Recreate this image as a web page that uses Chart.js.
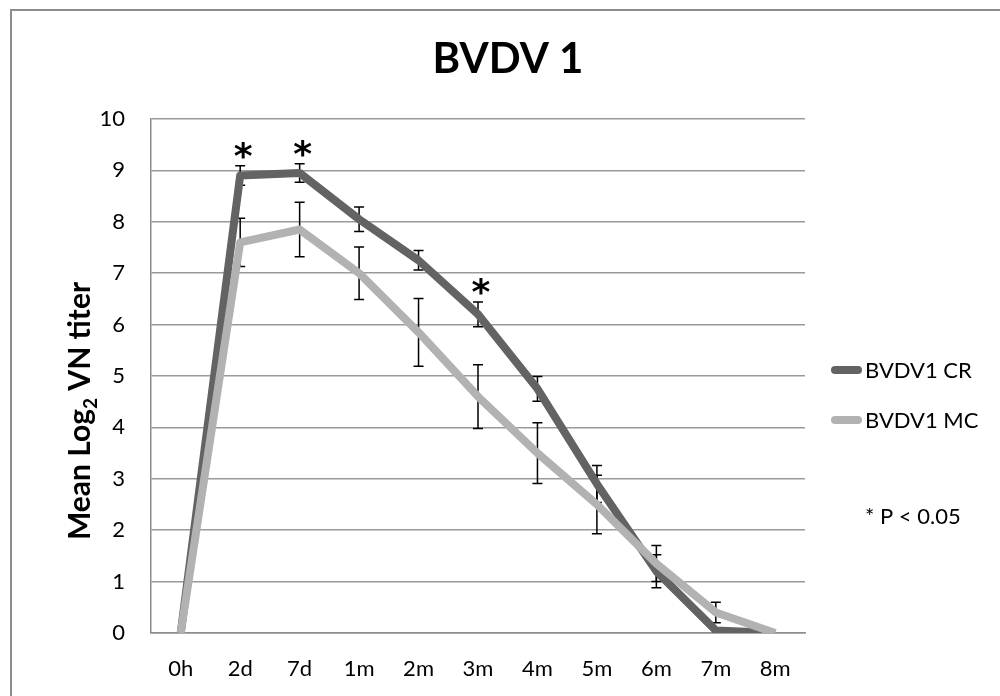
<!DOCTYPE html>
<html>
<head>
<meta charset="utf-8">
<script src="https://cdn.jsdelivr.net/npm/chart.js@4.4.1/dist/chart.umd.min.js"></script>
<style>
  html, body { margin: 0; padding: 0; background: #fff; overflow: hidden; }
  #frame { position: absolute; left: 10px; top: 9px; width: 1100px; height: 800px; border: 2px solid #8c8c8c; box-sizing: border-box; }
  #wrap { position: absolute; left: 0; top: 0; width: 1000px; height: 696px; }
</style>
</head>
<body>
<div id="frame"></div>
<div id="wrap"><canvas id="chart" width="1000" height="696"></canvas></div>
<script>
// datos
const categories = ["0h", "2d", "7d", "1m", "2m", "3m", "4m", "5m", "6m", "7m", "8m"];
const crMeans = [0, 8.9, 8.95, 8.05, 7.25, 6.2, 4.75, 2.9, 1.2, 0.05, 0];
const crErr   = [0, 0.19, 0.18, 0.24, 0.19, 0.24, 0.24, 0.36, 0.32, 0, 0];
const mcMeans = [0, 7.6, 7.85, 7.0, 5.85, 4.6, 3.5, 2.5, 1.35, 0.4, 0];
const mcErr   = [0, 0.47, 0.53, 0.51, 0.66, 0.62, 0.59, 0.57, 0.35, 0.2, 0];
const starIdx = [1, 2, 5];   // puntos con P < 0.05

const FONT = "Lato, 'Open Sans', sans-serif";

const extras = {
  id: "extras",
  beforeDatasetsDraw(chart) {
    // barras de error, debajo de las lineas
    const ctx = chart.ctx;
    const x = chart.scales.x, y = chart.scales.y;
    ctx.save();
    ctx.strokeStyle = "#000";
    ctx.lineWidth = 1.5;
    chart.data.datasets.forEach(ds => {
      ds.data.forEach((v, j) => {
        const e = ds.errors[j];
        if (!e) return;
        const px = x.getPixelForValue(j);
        const t = y.getPixelForValue(v + e), b = y.getPixelForValue(v - e);
        ctx.beginPath();
        ctx.moveTo(px, t); ctx.lineTo(px, b);
        ctx.moveTo(px - 5, t); ctx.lineTo(px + 5, t);
        ctx.moveTo(px - 5, b); ctx.lineTo(px + 5, b);
        ctx.stroke();
      });
    });
    ctx.restore();
  },
  afterDatasetsDraw(chart) {
    const ctx = chart.ctx;
    const x = chart.scales.x, y = chart.scales.y;
    ctx.save();
    ctx.fillStyle = "#000";

    // asteriscos
    ctx.font = "bold 36px 'DejaVu Sans', sans-serif";
    ctx.textAlign = "center";
    ctx.textBaseline = "alphabetic";
    starIdx.forEach(j => {
      const top = y.getPixelForValue(crMeans[j] + crErr[j]);
      ctx.fillText("*", x.getPixelForValue(j) + 3, top + 2);
    });

    // titulo
    ctx.font = "bold 42px " + FONT;
    ctx.textBaseline = "middle";
    ctx.fillText("BVDV 1", 508, 59);

    // leyenda
    ctx.textAlign = "left";
    ctx.font = "22px " + FONT;
    chart.data.datasets.forEach((ds, i) => {
      const ly = 370 + i * 50;
      ctx.strokeStyle = ds.borderColor;
      ctx.lineWidth = 8;
      ctx.lineCap = "round";
      ctx.beginPath();
      ctx.moveTo(835, ly); ctx.lineTo(858, ly);
      ctx.stroke();
      ctx.fillText(ds.label, 865, ly + 1);
    });
    ctx.fillText("* P < 0.05", 865, 517);

    // titulo del eje y con subindice
    ctx.translate(90, 411);
    ctx.rotate(-Math.PI / 2);
    ctx.textBaseline = "alphabetic";
    const big = "bold 30px " + FONT, small = "bold 19px " + FONT;
    ctx.font = big;
    const w1 = ctx.measureText("Mean Log").width;
    const w3 = ctx.measureText(" VN titer").width;
    ctx.font = small;
    const w2 = ctx.measureText("2").width;
    let cx = -(w1 + w2 + w3) / 2;
    ctx.font = big;
    ctx.fillText("Mean Log", cx, 0);
    cx += w1;
    ctx.font = small;
    ctx.fillText("2", cx, 7);
    cx += w2;
    ctx.font = big;
    ctx.fillText(" VN titer", cx, 0);
    ctx.restore();
  }
};

new Chart(document.getElementById("chart").getContext("2d"), {
  type: "line",
  data: {
    labels: categories,
    datasets: [
      { label: "BVDV1 CR", data: crMeans, errors: crErr, borderColor: "#636363", borderWidth: 8,
        pointRadius: 0, tension: 0, borderJoinStyle: "round", order: 2,
        clip: { left: 5, top: 5, right: 5, bottom: 0 } },
      { label: "BVDV1 MC", data: mcMeans, errors: mcErr, borderColor: "#b2b2b2", borderWidth: 8,
        pointRadius: 0, tension: 0, borderJoinStyle: "round", order: 1,
        clip: { left: 5, top: 5, right: 5, bottom: 0 } }
    ]
  },
  options: {
    responsive: false,
    animation: false,
    layout: { padding: { top: 119, right: 195, left: 0, bottom: 0 } },
    plugins: { legend: { display: false }, title: { display: false }, tooltip: { enabled: false } },
    scales: {
      x: {
        offset: true,
        grid: { display: false, drawTicks: false },
        border: { color: "#8c8c8c", width: 1.5 },
        ticks: { color: "#000", font: { family: FONT, size: 22 }, padding: 23, maxRotation: 0 },
        afterFit(s) { s.height = 63; }
      },
      y: {
        min: 0, max: 10,
        grid: { color: "#9a9a9a", lineWidth: 1.5, drawTicks: false },
        border: { color: "#8c8c8c", width: 1.5 },
        ticks: { stepSize: 1, color: "#000", font: { family: FONT, size: 22 }, padding: 26 },
        afterFit(s) { s.width = 151; }
      }
    }
  },
  plugins: [extras]
});
</script>
</body>
</html>
